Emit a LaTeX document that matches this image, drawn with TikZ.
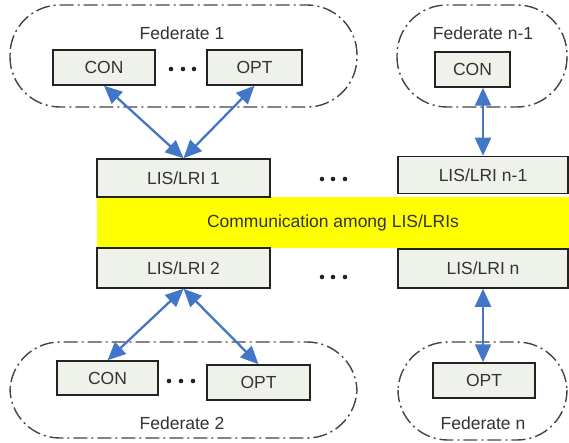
\documentclass[tikz,border=0pt]{standalone}
\usepackage{fontspec}
\setmainfont{Liberation Sans}
\usetikzlibrary{arrows.meta}
\definecolor{boxfill}{HTML}{EFF2EA}
\definecolor{boxline}{HTML}{222222}
\definecolor{arrowblue}{HTML}{4276C6}
\definecolor{txt}{HTML}{333333}
\definecolor{cloudline}{HTML}{444444}
\definecolor{band}{HTML}{FFFF00}
\tikzset{
  unitbox/.style={draw=boxline, line width=1.5pt, fill=boxfill, text=txt, inner sep=0pt,
    font=\fontsize{17.5}{20}\selectfont},
  fedcloud/.style={draw=cloudline, line width=1.4pt, rounded corners=50pt,
    dash pattern=on 14pt off 4pt on 2pt off 4pt},
  fedlabel/.style={text=txt, font=\fontsize{17.5}{20}\selectfont, inner sep=0pt},
  biarrow/.style={arrowblue, line width=2.3pt, {Triangle[length=18pt,width=16pt]}-{Triangle[length=18pt,width=16pt]}},
  dotmark/.style={fill=boxline, draw=none},
}
\begin{document}
\begin{tikzpicture}[x=1pt,y=-1pt]
\useasboundingbox (0,0) rectangle (569,443);
% federate clouds
\draw[fedcloud] (10,5) rectangle (357,107);
\draw[fedcloud] (397,5) rectangle (567,107);
\draw[fedcloud] (10,342) rectangle (357,438);
\draw[fedcloud] (398,342) rectangle (567,440);
% labels
\node[fedlabel] (f1) at (182,33) {Federate 1};
\node[fedlabel] (fn1) at (483,33) {Federate n-1};
\node[fedlabel] (f2) at (182,423) {Federate 2};
\node[fedlabel] (fn) at (483,423) {Federate n};
% communication band
\fill[band] (97,197) rectangle (569,248);
\node[text=txt, font=\fontsize{17.5}{20}\selectfont, inner sep=0pt] (comm) at (333,222.5) {Communication among LIS/LRIs};
% component boxes
\node[unitbox, minimum width=102pt, minimum height=35pt] (con1) at (104,67.5) {CON};
\node[unitbox, minimum width=95pt, minimum height=35pt] (opt1) at (254.5,67.5) {OPT};
\node[unitbox, minimum width=75pt, minimum height=35pt] (conn1) at (472.5,69.5) {CON};
\node[unitbox, minimum width=101pt, minimum height=34pt] (con2) at (107.5,378) {CON};
\node[unitbox, minimum width=103pt, minimum height=35pt] (opt2) at (258.5,382.5) {OPT};
\node[unitbox, minimum width=102pt, minimum height=35pt] (optn) at (484,380.5) {OPT};
% LIS/LRI boxes
\node[unitbox, minimum width=173pt, minimum height=38pt] (lis1) at (183.5,178) {LIS/LRI 1};
\node[unitbox, minimum width=170pt, minimum height=37pt] (lisn1) at (483,175) {LIS/LRI n-1};
\node[unitbox, minimum width=173pt, minimum height=40pt] (lis2) at (183.5,268) {LIS/LRI 2};
\node[unitbox, minimum width=170pt, minimum height=39pt] (lisn) at (483,268.5) {LIS/LRI n};
% dots
\foreach \x in {171,183,194} \fill[dotmark] (\x,69) circle (2.3pt);
\foreach \x in {322,333,345} \fill[dotmark] (\x,179) circle (2.3pt);
\foreach \x in {322,333,345} \fill[dotmark] (\x,277) circle (2.3pt);
\foreach \x in {169,181,193} \fill[dotmark] (\x,381) circle (2.3pt);
% arrows
\draw[biarrow] (con1.south) -- (lis1.north);
\draw[biarrow] (opt1.south) -- (lis1.north);
\draw[biarrow] (lisn1.north) -- (lisn1.north |- conn1.south);
\draw[biarrow] (lis2.south) -- (con2.north);
\draw[biarrow] (lis2.south) -- (opt2.north);
\draw[biarrow] (lisn.south) -- (lisn.south |- optn.north);
\end{tikzpicture}
\end{document}
